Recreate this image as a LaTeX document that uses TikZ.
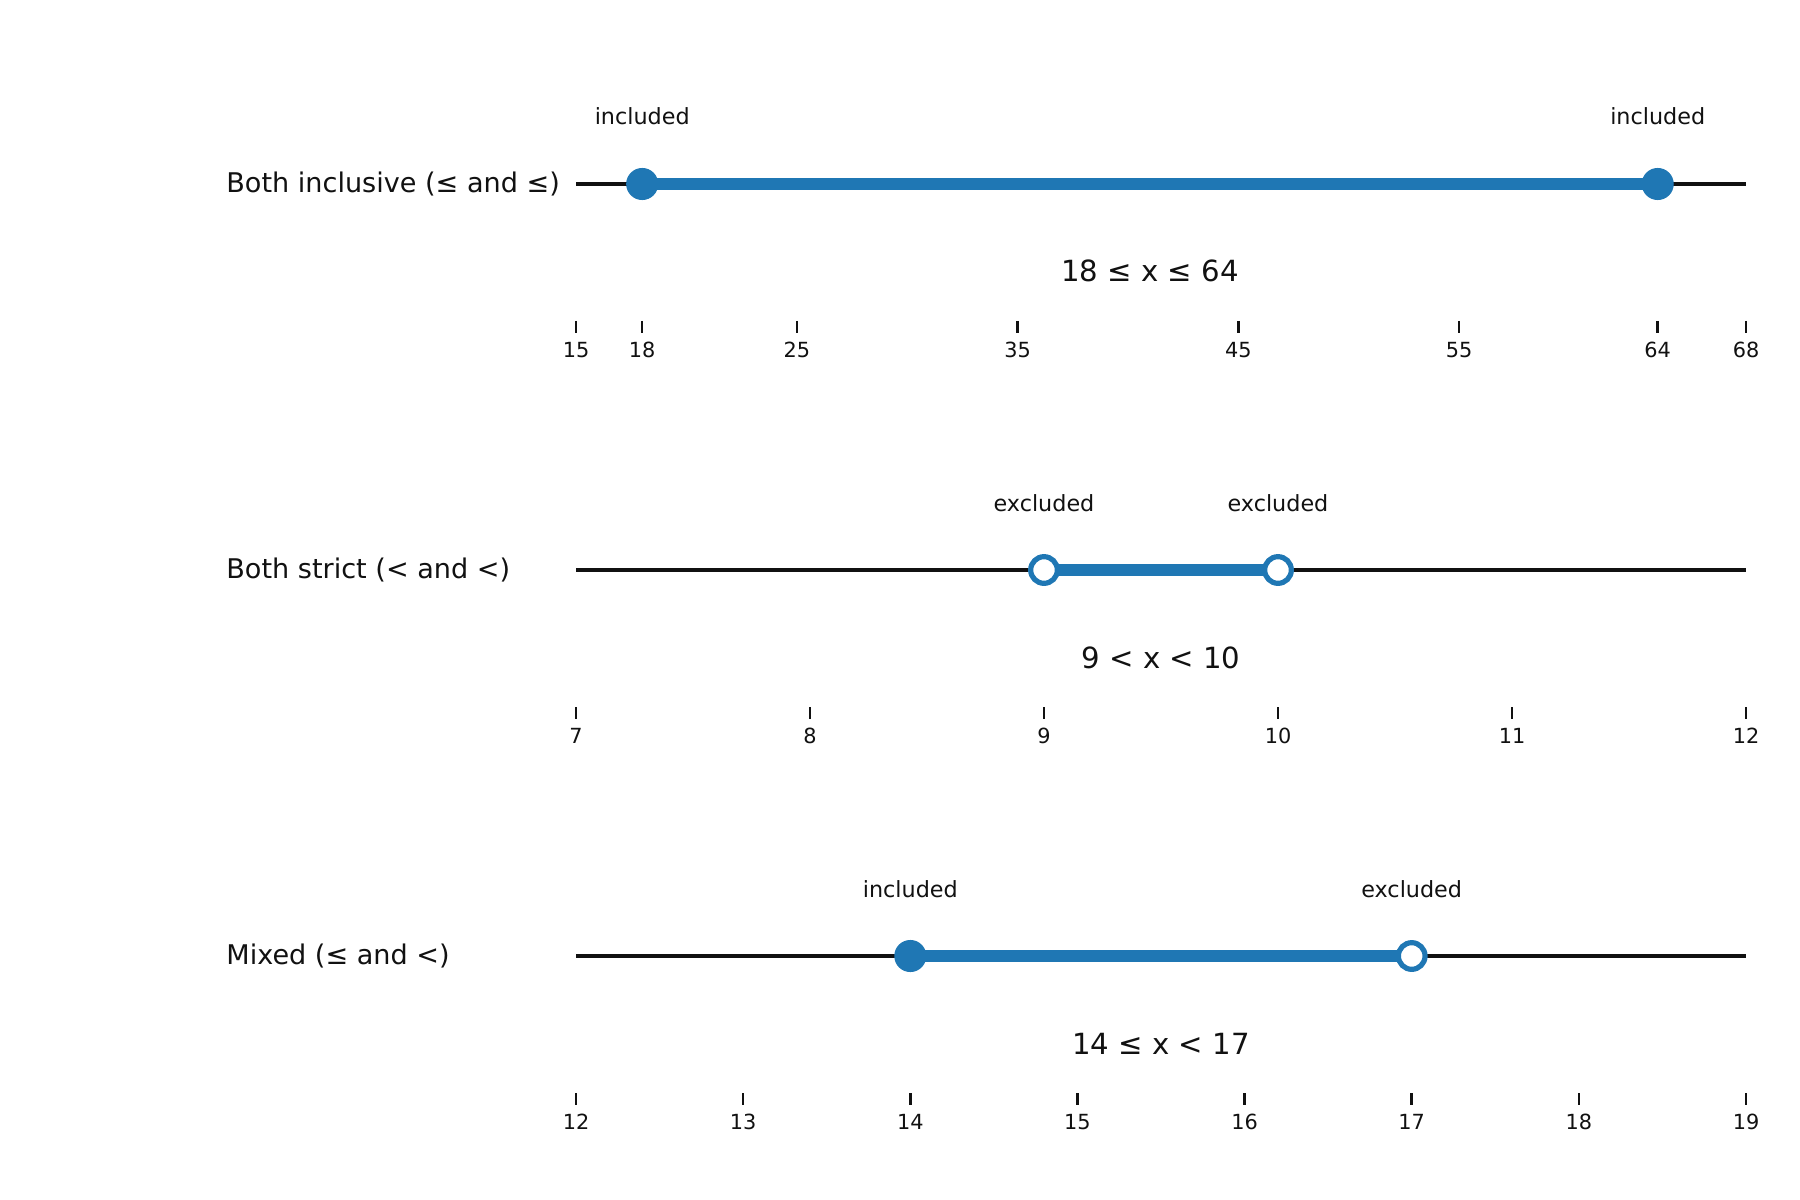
\documentclass[tikz,border=0pt]{standalone}
\usepackage{fontspec}
\setmainfont{DejaVu Sans}
\definecolor{tabblue}{HTML}{1F77B4}
\definecolor{ink}{HTML}{111111}
\begin{document}
\begin{tikzpicture}[x=0.48pt,y=-0.48pt,
  axisline/.style={line width=2pt, ink},
  tickmark/.style={line width=1.2pt, ink},
  band/.style={line width=6pt, tabblue},
  closeddot/.style={fill=tabblue},
  opendot/.style={draw=tabblue, line width=2.5pt, fill=white},
  rowlabel/.style={anchor=west, inner sep=0pt, text=ink, font=\fontsize{13}{15.6}\selectfont},
  ticklabel/.style={anchor=base, inner sep=0pt, text=ink, font=\fontsize{10}{12}\selectfont},
  endlabel/.style={anchor=base, inner sep=0pt, text=ink, font=\fontsize{10.7}{12.8}\selectfont},
  ineq/.style={anchor=base, inner sep=0pt, text=ink, font=\fontsize{14}{16.8}\selectfont}]
\useasboundingbox (0,0) rectangle (1800,1200);

% ---------- Row 1 ----------
\coordinate (r1s) at (576,184);
\coordinate (r1e) at (1746,184);
\draw[axisline] (r1s) -- (r1e);
\foreach \v in {15,18,25,35,45,55,64,68} {
  \pgfmathsetmacro\px{576+(\v-15)*22.0755}
  \draw[tickmark] (\px,321) -- (\px,333);
  \node[ticklabel] at (\px,357.5) {\v};
}
\coordinate (r1a) at (642.2,184);
\coordinate (r1b) at (1657.7,184);
\draw[band] (r1a) -- (r1b);
\fill[closeddot] (r1a) circle[radius=7.7pt];
\fill[closeddot] (r1b) circle[radius=7.7pt];
\node[endlabel] (r1la) at (642.2,125) {included};
\node[endlabel] (r1lb) at (1657.7,125) {included};
\node[rowlabel] (r1lab) at (226,184) {Both inclusive (≤ and ≤)};
\node[ineq] (r1ineq) at (1150,282) {18 ≤ x ≤ 64};

% ---------- Row 2 ----------
\coordinate (r2s) at (576,570);
\coordinate (r2e) at (1746,570);
\draw[axisline] (r2s) -- (r2e);
\foreach \v in {7,8,9,10,11,12} {
  \pgfmathsetmacro\px{576+(\v-7)*234}
  \draw[tickmark] (\px,707) -- (\px,719);
  \node[ticklabel] at (\px,743.5) {\v};
}
\coordinate (r2a) at (1044,570);
\coordinate (r2b) at (1278,570);
\draw[band] (r2a) -- (r2b);
\draw[opendot] (r2a) circle[radius=6.4pt];
\draw[opendot] (r2b) circle[radius=6.4pt];
\node[endlabel] (r2la) at (1044,511.5) {excluded};
\node[endlabel] (r2lb) at (1278,511.5) {excluded};
\node[rowlabel] (r2lab) at (226,570) {Both strict (< and <)};
\node[ineq] (r2ineq) at (1161,668) {9 < x < 10};

% ---------- Row 3 ----------
\coordinate (r3s) at (576,956);
\coordinate (r3e) at (1746,956);
\draw[axisline] (r3s) -- (r3e);
\foreach \v in {12,13,14,15,16,17,18,19} {
  \pgfmathsetmacro\px{576+(\v-12)*167.1429}
  \draw[tickmark] (\px,1093) -- (\px,1105);
  \node[ticklabel] at (\px,1129.5) {\v};
}
\coordinate (r3a) at (910.3,956);
\coordinate (r3b) at (1411.7,956);
\draw[band] (r3a) -- (r3b);
\fill[closeddot] (r3a) circle[radius=7.7pt];
\draw[opendot] (r3b) circle[radius=6.4pt];
\node[endlabel] (r3la) at (910.3,897) {included};
\node[endlabel] (r3lb) at (1411.7,897) {excluded};
\node[rowlabel] (r3lab) at (226,956) {Mixed (≤ and <)};
\node[ineq] (r3ineq) at (1161,1054) {14 ≤ x < 17};
\end{tikzpicture}
\end{document}
